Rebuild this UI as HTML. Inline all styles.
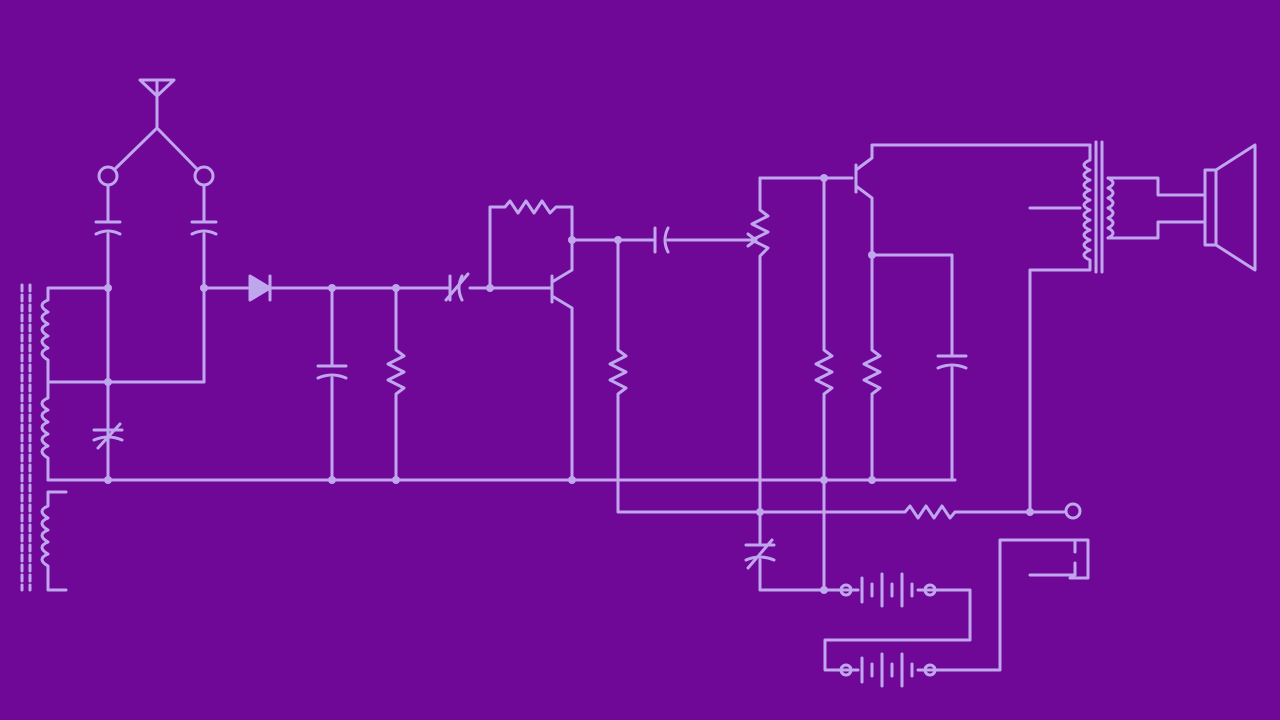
<!DOCTYPE html>
<html><head><meta charset="utf-8"><style>html,body{margin:0;padding:0;background:#6f0897;}svg{display:block}</style></head>
<body>
<svg width="1280" height="720" viewBox="0 0 1280 720" xmlns="http://www.w3.org/2000/svg">
<rect width="1280" height="720" fill="#6f0897"/>
<g stroke="#c0a6ee" stroke-width="3" fill="none" stroke-linecap="round" stroke-linejoin="round">
<!-- antenna -->
<path d="M140 80 L174 80 L157 96 Z M157 80 V128 M157 128 L116 168 M157 128 L196 168"/>
<circle cx="108" cy="176" r="9"/><circle cx="204" cy="176" r="9"/>
<path d="M108 185 V222 M108 234 V480 M96 222 H120 M96 234 Q108 228 120 234"/>
<path d="M204 185 V222 M204 234 V382 M192 222 H216 M192 234 Q204 228 216 234"/>
<path d="M48 382 H204"/>
<!-- variable cap lower left -->
<path d="M94 430 H122 M94 440 Q108 434 122 440 M98 448 L120 424"/>
<!-- left coils cores -->
<path d="M22 285 V590 M30 285 V590" stroke-dasharray="6 4"/>
<path d="M48 288 H108 M48 288 V300 Q36 305 48 312 Q36 317 48 324 Q36 329 48 336 Q36 341 48 348 Q36 353 48 360 V382 M48 382 V398 Q36 403 48 410 Q36 415 48 422 Q36 427 48 434 Q36 439 48 446 Q36 451 48 458 V480 H108"/>
<path d="M66 492 H48 V506 Q36 511 48 518 Q36 523 48 530 Q36 535 48 542 Q36 547 48 554 Q36 559 48 566 V590 H66"/>
<!-- top rail -->
<path d="M204 288 H248 M272 288 H448 M470 288 H550"/>
<path d="M250 276 L270 288 L250 300 Z M270 276 V300" fill="#c0a6ee"/>
<path d="M450 276 V300 M462 276 Q456 288 462 300 M446 300 L468 274"/>
<!-- bottom rail -->
<path d="M48 480 H955"/>
<path d="M332 288 V366 M332 378 V480 M318 366 H346 M318 378 Q332 372 346 378"/>
<path d="M396 288 V350 L404 356 L388 364 L404 372 L388 380 L404 388 L396 394 V480"/>
<!-- transistor 1 -->
<path d="M490 288 V207 H505 L510 201 L518 213 L526 201 L534 213 L542 201 L550 213 L556 207 H572 V240"/>
<path d="M552 276 V302 M552 282 L572 270 V240 M552 296 L572 308 V480"/>
<!-- y=240 line -->
<path d="M572 240 H655 M668 240 H748 M655 228 V252 M668 228 Q662 240 668 252"/>
<path d="M618 240 V350 L626 356 L610 364 L626 372 L610 380 L626 388 L618 394 V512 H905 L910 506 L918 518 L926 506 L934 518 L942 506 L950 518 L955 512 H1064"/>
<circle cx="1073" cy="511" r="7"/>
<!-- pot/transistor 2 -->
<path d="M760 178 V210 L768 216 L752 224 L768 232 L752 240 L768 248 L760 256 V545 M760 560 V590 H840"/>
<path d="M744 240 L756 240 M748 234 L756 240 L748 246"/>
<path d="M746 545 H774 M746 560 Q760 554 774 560 M748 568 L772 540"/>
<path d="M760 178 H852 M824 178 V350 L832 356 L816 364 L832 372 L816 380 L832 388 L824 394 V590"/>
<path d="M856 165 V192 M856 170 L872 158 V145 H1090 M856 186 L872 198 V350 L880 356 L864 364 L880 372 L864 380 L880 388 L872 394 V480"/>
<path d="M872 255 H952 V356 M952 368 V480 M938 356 H966 M938 368 Q952 362 966 368"/>
<!-- transformer -->
<path d="M1090 145 V160 Q1078 165 1090 170 Q1078 175 1090 180 Q1078 185 1090 190 Q1078 195 1090 200 Q1078 205 1090 210 Q1078 215 1090 220 Q1078 225 1090 230 Q1078 235 1090 240 Q1078 245 1090 250 Q1078 255 1090 260 V270 H1030 V512"/>
<path d="M1030 208 H1080"/>
<path d="M1096 142 V272 M1102 142 V272"/>
<path d="M1108 178 Q1118 183 1108 188 Q1118 193 1108 198 Q1118 203 1108 208 Q1118 213 1108 218 Q1118 223 1108 228 Q1118 233 1108 238"/>
<path d="M1108 178 H1158 V195 H1205 M1108 238 H1158 V222 H1205"/>
<!-- speaker -->
<path d="M1205 170 H1216 V245 H1205 Z M1216 170 L1255 145 V270 L1216 245"/>
<!-- batteries -->
<path d="M840 590 H858 M862 578 V602 M872 584 V596 M882 574 V606 M892 584 V596 M902 574 V606 M912 584 V596 M918 590 H970 V640 H825 V670 H858 M862 658 V682 M872 664 V676 M882 654 V686 M892 664 V676 M902 654 V686 M912 664 V676 M918 670 H1000 V540 H1075 V552 M1075 563 V575 H1030"/>
<circle cx="846" cy="590" r="5"/><circle cx="930" cy="590" r="5"/>
<circle cx="846" cy="670" r="5"/><circle cx="930" cy="670" r="5"/>
<path d="M1070 540 H1088 V578 H1070"/>
</g>
<g fill="#c0a6ee">
<circle cx="108" cy="288" r="4"/><circle cx="204" cy="288" r="4"/><circle cx="108" cy="382" r="4"/><circle cx="108" cy="480" r="4"/>
<circle cx="332" cy="288" r="4"/><circle cx="396" cy="288" r="4"/><circle cx="332" cy="480" r="4"/><circle cx="396" cy="480" r="4"/>
<circle cx="490" cy="288" r="4"/><circle cx="572" cy="240" r="4"/><circle cx="572" cy="480" r="4"/><circle cx="618" cy="240" r="4"/>
<circle cx="824" cy="178" r="4"/><circle cx="824" cy="480" r="4"/><circle cx="872" cy="480" r="4"/><circle cx="872" cy="255" r="4"/>
<circle cx="760" cy="512" r="4"/><circle cx="824" cy="590" r="4"/><circle cx="1030" cy="512" r="4"/>
</g>
</svg>
</body></html>
